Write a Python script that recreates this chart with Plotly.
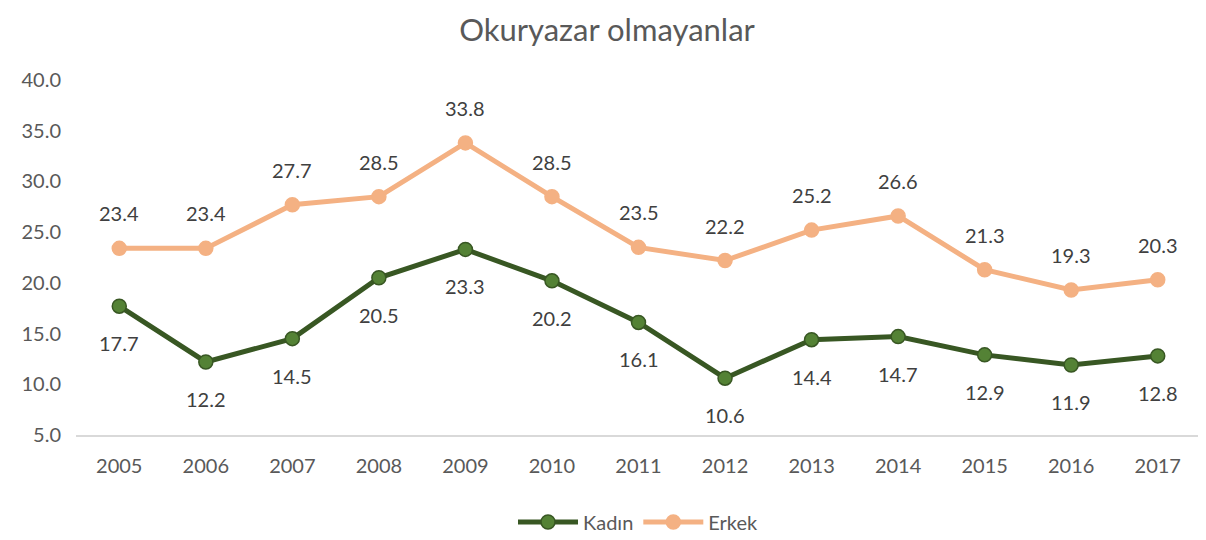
import plotly.graph_objects as go

years = ["2005","2006","2007","2008","2009","2010","2011","2012","2013","2014","2015","2016","2017"]
kadin = [17.7, 12.2, 14.5, 20.5, 23.3, 20.2, 16.1, 10.6, 14.4, 14.7, 12.9, 11.9, 12.8]
erkek = [23.4, 23.4, 27.7, 28.5, 33.8, 28.5, 23.5, 22.2, 25.2, 26.6, 21.3, 19.3, 20.3]
y_ticks = [5, 10, 15, 20, 25, 30, 35, 40]

FONT = "Lato"
fig = go.Figure()
fig.add_trace(go.Scatter(
    x=years, y=kadin, name="Kadın", mode="lines+markers",
    line=dict(color="#385723", width=5),
    marker=dict(size=14, color="#548235", line=dict(color="#385723", width=1.5)),
))
fig.add_trace(go.Scatter(
    x=years, y=erkek, name="Erkek", mode="lines+markers",
    line=dict(color="#F4B183", width=5),
    marker=dict(size=14, color="#F4B183", line=dict(color="#F4B183", width=1.5)),
))
for series, shift in ((kadin, -37), (erkek, 35)):
    for i, v in enumerate(series):
        fig.add_annotation(x=i, y=v, xref="x", yref="y", text=f"{v:.1f}", showarrow=False,
                           yshift=shift, font=dict(family=FONT, size=20, color="#404040"))

# page body has an 8px default margin; figure sized to fit the 1206x540 window
fig.update_layout(
    width=1198, height=532,
    paper_bgcolor="white", plot_bgcolor="white",
    margin=dict(l=68, r=5, t=72, b=105, autoexpand=False),
    title=dict(text="Okuryazar olmayanlar", x=0.5, xanchor="center", y=0.958, yanchor="middle",
               font=dict(family=FONT, size=31, color="#595959")),
    xaxis=dict(type="category", range=[-0.5, 12.5], showgrid=False, showline=True,
               linecolor="#D9D9D9", linewidth=1.5, ticks="", ticklabelstandoff=12,
               automargin=False,
               tickfont=dict(family=FONT, size=20, color="#595959")),
    yaxis=dict(range=[5, 40], tickvals=y_ticks, tickformat=".1f", showgrid=False,
               zeroline=False, showline=False, ticks="", automargin=False,
               tickfont=dict(family=FONT, size=20, color="#595959"), ticklabelstandoff=14),
    legend=dict(orientation="h", x=0.5, xanchor="center", y=-0.245, yanchor="middle",
                font=dict(family=FONT, size=20, color="#595959"), itemwidth=60),
    showlegend=True,
)
fig.write_html("out.html")
